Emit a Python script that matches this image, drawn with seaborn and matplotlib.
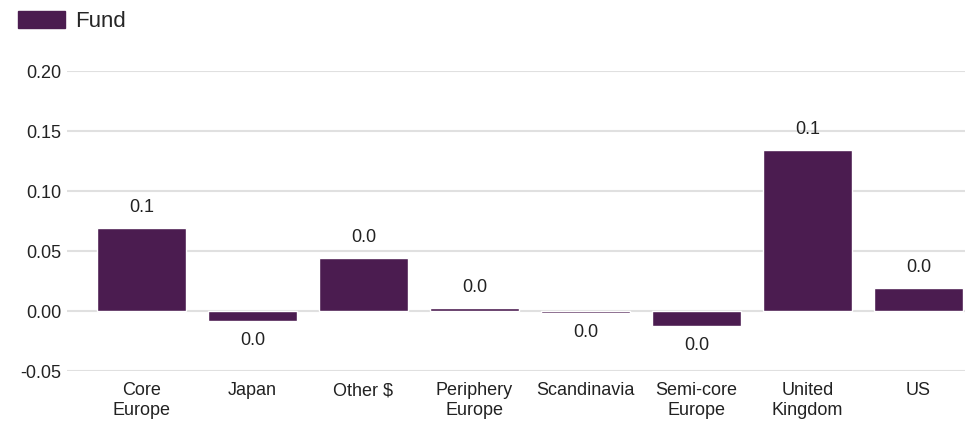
import numpy as np
import pandas as pd
import matplotlib
matplotlib.use('Agg')
import matplotlib.pyplot as plt
import matplotlib.patches as mpatches
import seaborn as sns

# Datos =====================================================================================
categories = ['Core\nEurope', 'Japan', 'Other $', 'Periphery\nEurope', 'Scandinavia',
              'Semi-core\nEurope', 'United\nKingdom', 'US']
fund = [0.069, -0.008, 0.044, 0.0025, -0.0015, -0.0125, 0.134, 0.019]

df = pd.DataFrame({'region': categories, 'Fund': fund})
color = '#4b1c50'

# Figura ====================================================================================
sns.set_theme(style='white')
plt.rcParams['font.family'] = ['Liberation Sans', 'DejaVu Sans']

fig = plt.figure(figsize=(9.7, 4.25), dpi=100)
ax = fig.add_axes([67/970, 1 - 371/425, 898/970, 300/425])

sns.barplot(data=df, x='region', y='Fund', color=color, width=0.8,
            saturation=1, ax=ax, zorder=3)

ax.set_xlim(-0.671, 7.419)
ax.set_ylim(-0.05, 0.2)
ax.set_yticks([-0.05, 0.0, 0.05, 0.10, 0.15, 0.20])
ax.set_yticklabels(['-0.05', '0.00', '0.05', '0.10', '0.15', '0.20'])
ax.yaxis.grid(True, color='#e0e0e0', linewidth=1.5, zorder=0)
ax.set_axisbelow(True)
ax.tick_params(axis='both', length=0, labelsize=13, colors='#222222')
ax.tick_params(axis='y', pad=4)
ax.tick_params(axis='x', pad=8)
for s in ax.spines.values():
    s.set_visible(False)
ax.set_xlabel('')
ax.set_ylabel('')

# Etiquetas de valores
for i, v in enumerate(fund):
    if v >= 0:
        ax.annotate(f'{v:.1f}', (i, v), xytext=(0, 9), textcoords='offset points',
                    ha='center', va='bottom', fontsize=13, color='#222222')
    else:
        ax.annotate(f'{v:.1f}'.replace('-', ''), (i, v), xytext=(0, -8), textcoords='offset points',
                    ha='center', va='top', fontsize=13, color='#222222')

handle = mpatches.Patch(color=color, label='Fund')
fig.legend(handles=[handle], loc='upper left', bbox_to_anchor=(0.012, 0.99), frameon=False,
           fontsize=16, handlelength=2.1, handleheight=0.8, borderaxespad=0.0,
           handletextpad=0.45, borderpad=0.3)

fig.savefig('out.png', dpi=100)
